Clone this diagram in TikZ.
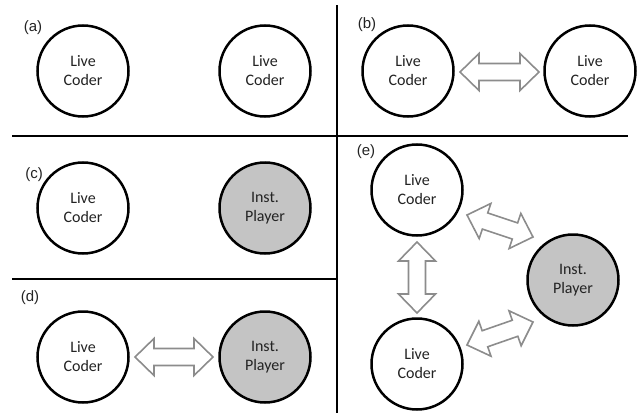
\documentclass[tikz,border=0pt]{standalone}
\usepackage{fontspec}
\setmainfont{Carlito}
\newfontfamily\labelfont{Liberation Sans}
\usetikzlibrary{calc}
\definecolor{instfill}{RGB}{196,196,196}
\definecolor{arrgray}{RGB}{140,140,140}
\definecolor{txtgray}{RGB}{35,35,35}
\tikzset{
  agent/.style={circle, draw=black, line width=2.5pt, minimum size=91pt, inner sep=0pt,
    align=center, text=txtgray, font=\fontsize{16}{19}\selectfont},
  coderbox/.style={agent, fill=white},
  playerbox/.style={agent, fill=instfill},
  panellabel/.style={text=txtgray, font=\labelfont\fontsize{15}{17}\selectfont, inner sep=0pt},
  sepline/.style={line width=2pt, black},
  barrow/.style={draw=arrgray, fill=white, line width=1.6pt, line join=miter},
}
\newcommand\dblarr[2]{%
  \coordinate (ha) at ($(#1)!19pt!(#2)$);
  \coordinate (hb) at ($(#2)!19pt!(#1)$);
  \draw[barrow] (#1) -- ($(ha)!18.5pt!90:(#2)$) -- ($(ha)!8.5pt!90:(#2)$)
    -- ($(hb)!8.5pt!-90:(#1)$) -- ($(hb)!18.5pt!-90:(#1)$) -- (#2)
    -- ($(hb)!18.5pt!90:(#1)$) -- ($(hb)!8.5pt!90:(#1)$)
    -- ($(ha)!8.5pt!-90:(#2)$) -- ($(ha)!18.5pt!-90:(#2)$) -- cycle;
}
\begin{document}
\begin{tikzpicture}[x=1pt,y=-1pt]
\useasboundingbox (0,0) rectangle (643,415);
% separators
\coordinate (vtop) at (337,5);
\coordinate (vbot) at (337,413);
\coordinate (hl) at (12,135.5);
\coordinate (hr) at (628,135.5);
\coordinate (hl2) at (12,279);
\coordinate (hm2) at (337,279);
\draw[sepline] (vtop) -- (vbot);
\draw[sepline] (hl) -- (hr);
\draw[sepline] (hl2) -- (hm2);
% (a)
\node[panellabel] (la) at (33,28) {(a)};
\node[coderbox] (a1) at (83,71) {Live\\Coder};
\node[coderbox] (a2) at (265,71) {Live\\Coder};
% (b)
\node[panellabel] (lb) at (367,25) {(b)};
\node[coderbox] (b1) at (408,71) {Live\\Coder};
\node[coderbox] (b2) at (590,71) {Live\\Coder};
\coordinate (b1e) at (460,72);
\coordinate (b2e) at (539,72);
\dblarr{b1e}{b2e}
% (c)
\node[panellabel] (lc) at (34,175) {(c)};
\node[coderbox] (c1) at (83,208) {Live\\Coder};
\node[playerbox] (c2) at (265,208) {Inst.\\Player};
% (d)
\node[panellabel] (ld) at (30,298) {(d)};
\node[coderbox] (d1) at (83,357) {Live\\Coder};
\node[playerbox] (d2) at (265,357) {Inst.\\Player};
\coordinate (d1e) at (135,357);
\coordinate (d2e) at (213,357);
\dblarr{d1e}{d2e}
% (e)
\node[panellabel] (le) at (366,152) {(e)};
\node[coderbox] (e1) at (417,190) {Live\\Coder};
\node[coderbox] (e2) at (417,364) {Live\\Coder};
\node[playerbox] (e3) at (573,280) {Inst.\\Player};
\coordinate (v1) at (417,242);
\coordinate (v2) at (417,313);
\dblarr{v1}{v2}
\coordinate (u1) at (467,215);
\coordinate (u2) at (533,237);
\dblarr{u1}{u2}
\coordinate (w1) at (467,345);
\coordinate (w2) at (533,322);
\dblarr{w1}{w2}
\end{tikzpicture}
\end{document}
